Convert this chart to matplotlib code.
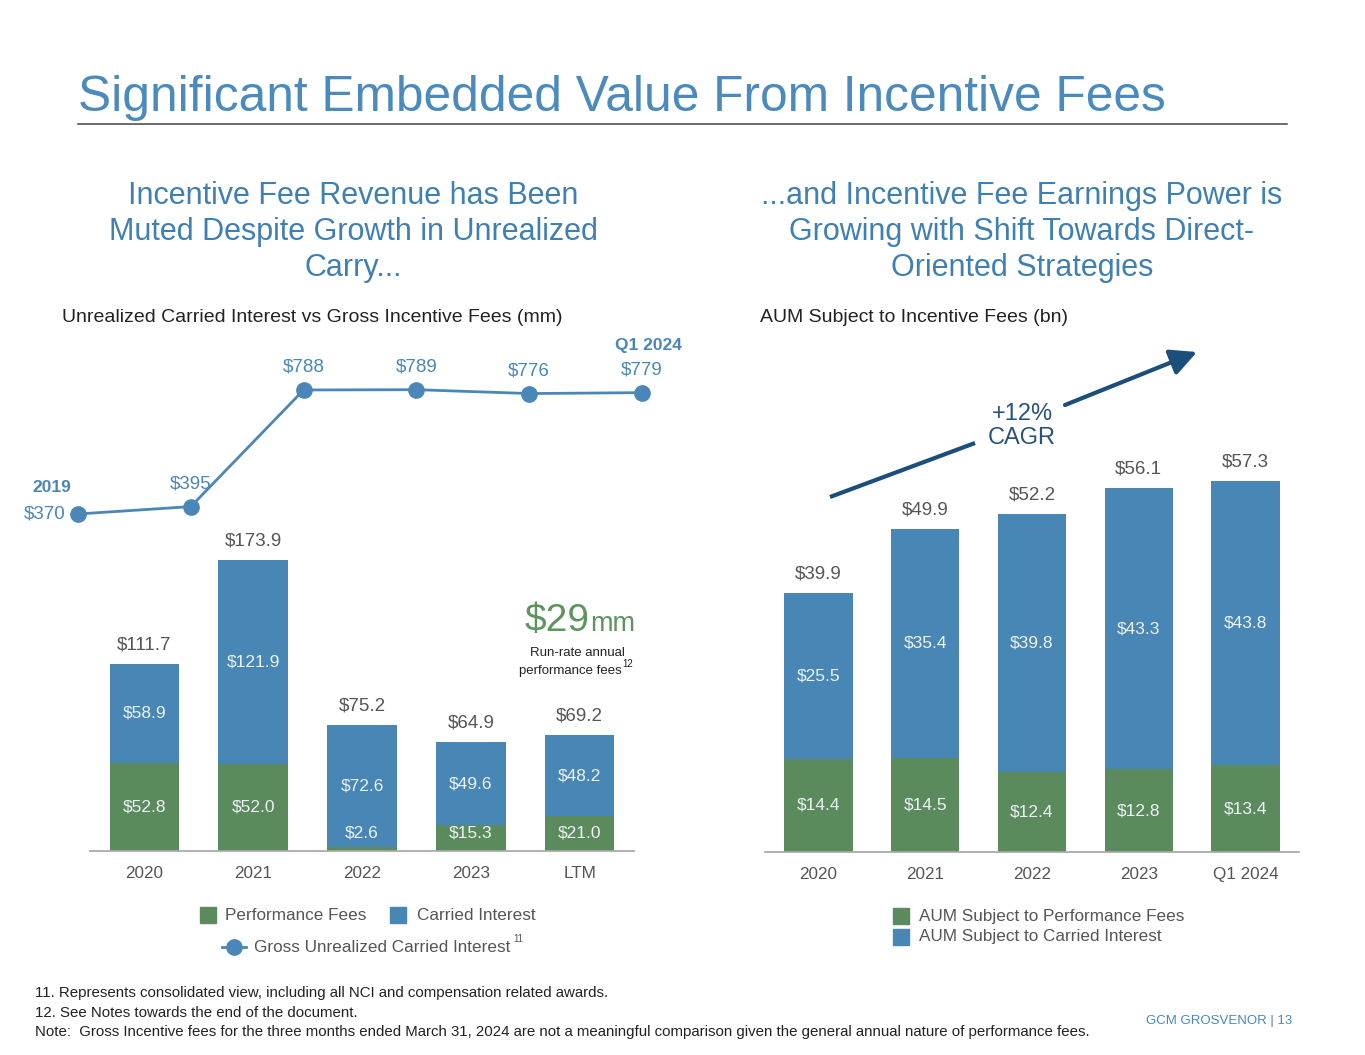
import matplotlib
matplotlib.use("Agg")
import matplotlib.pyplot as plt
from matplotlib.patches import Rectangle, FancyArrowPatch
from matplotlib.lines import Line2D

plt.rcParams['font.family'] = ['Liberation Sans', 'DejaVu Sans']

# ---------------- data ----------------
left_cats = ["2020", "2021", "2022", "2023", "LTM"]
perf_fees = [52.8, 52.0, 2.6, 15.3, 21.0]
carried_int = [58.9, 121.9, 72.6, 49.6, 48.2]
incentive_totals = [111.7, 173.9, 75.2, 64.9, 69.2]

line_cats = ["2019", "2020", "2021", "2022", "2023", "Q1 2024"]
gross_unrealized = [370, 395, 788, 789, 776, 779]

right_cats = ["2020", "2021", "2022", "2023", "Q1 2024"]
aum_perf = [14.4, 14.5, 12.4, 12.8, 13.4]
aum_carry = [25.5, 35.4, 39.8, 43.3, 43.8]
aum_totals = [39.9, 49.9, 52.2, 56.1, 57.3]

# ---------------- styles ----------------
W, H = 1365, 1055
GREEN = "#5B8A5D"
BLUE = "#4886B5"
LINEBLUE = "#4A87B8"
TITLEBLUE = "#4A8ABD"
SUBBLUE = "#3F7FB2"
NAVY = "#1B4E7A"
GRAY_TXT = "#555555"
INNER = "#EEF3F7"

fig = plt.figure(figsize=(W / 100, H / 100), dpi=100)
fig.patch.set_facecolor("white")


def rect(x0, y0, x1, y1):
    return [x0 / W, 1 - y1 / H, (x1 - x0) / W, (y1 - y0) / H]


def fx(x):
    return x / W


def fy(y):
    return 1 - y / H


def superscript(txt, s, color, dx=2, dy=7):
    fig.texts.append(None)  # placeholder removed below
    fig.texts.pop()
    a = fig.get_children()  # noqa
    t = plt.annotate(s, xy=(1, 0.5), xycoords=txt, xytext=(dx, dy), textcoords="offset pixels",
                     fontsize=7, color=color, ha="left", va="center", annotation_clip=False)
    return t


# ---------------- title ----------------
fig.text(fx(78), fy(111), "Significant Embedded Value From Incentive Fees",
         fontsize=35.7, color=TITLEBLUE, ha="left", va="baseline")
fig.add_artist(Line2D([fx(78), fx(1287)], [fy(124), fy(124)],
                      color="#444444", lw=1.1, transform=fig.transFigure))

fig.text(fx(353), fy(232), "Incentive Fee Revenue has Been\nMuted Despite Growth in Unrealized\nCarry...",
         fontsize=22, color=SUBBLUE, ha="center", va="center", linespacing=1.28)
fig.text(fx(1022), fy(232), "...and Incentive Fee Earnings Power is\nGrowing with Shift Towards Direct-\nOriented Strategies",
         fontsize=22, color=SUBBLUE, ha="center", va="center", linespacing=1.28)

fig.text(fx(62), fy(318), "Unrealized Carried Interest vs Gross Incentive Fees (mm)",
         fontsize=14, color="#222222", ha="left", va="center")
fig.text(fx(760), fy(318), "AUM Subject to Incentive Fees (bn)",
         fontsize=14, color="#222222", ha="left", va="center")

# ---------------- left bar chart ----------------
axL = fig.add_axes(rect(90, 540, 634, 851))
xl = range(len(left_cats))
bw = 0.64
axL.bar(xl, perf_fees, width=bw, color=GREEN, zorder=2)
axL.bar(xl, carried_int, width=bw, bottom=perf_fees, color=BLUE, zorder=2)
axL.set_xlim(-0.5, 4.5)
axL.set_ylim(0, (851 - 540) / 1.674)
for i in xl:
    pf, ci, tot = perf_fees[i], carried_int[i], incentive_totals[i]
    axL.text(i, max(pf / 2, 10.75), f"${pf:.1f}", ha="center", va="center",
             fontsize=12.5, color=INNER, zorder=3)
    axL.text(i, pf + ci / 2, f"${ci:.1f}", ha="center", va="center",
             fontsize=12.5, color=INNER, zorder=3)
    axL.annotate(f"${tot:.1f}", (i, pf + ci), xytext=(0, 19), textcoords="offset pixels",
                 ha="center", va="center", fontsize=13.5, color=GRAY_TXT)
axL.set_xticks(list(xl))
axL.set_xticklabels(left_cats, fontsize=12.3, color=GRAY_TXT)
axL.tick_params(axis="x", length=0, pad=10.5)
axL.set_yticks([])
for s in ["top", "left", "right"]:
    axL.spines[s].set_visible(False)
axL.spines["bottom"].set_color("#AAAAAA")
axL.spines["bottom"].set_linewidth(1.3)
axL.patch.set_alpha(0)

# ---------------- line chart (gross unrealized carried interest) ----------------
axLine = fig.add_axes(rect(40, 340, 680, 530))
xs = list(range(len(line_cats)))
sp = 112.8
axLine.set_xlim(-(78 - 40) / sp, 5 + (680 - 642) / sp)
k = 0.2967
axLine.set_ylim(370 - (530 - 514) / k, 370 + (514 - 340) / k)
axLine.plot(xs, gross_unrealized, color=LINEBLUE, lw=2.0, marker="o", markersize=11,
            markerfacecolor=LINEBLUE, markeredgecolor=LINEBLUE, zorder=3)
axLine.axis("off")
axLine.patch.set_alpha(0)
for i, v in enumerate(gross_unrealized):
    if i == 0:
        axLine.annotate(f"${v}", (i, v), xytext=(-12, 0), textcoords="offset pixels",
                        ha="right", va="center", fontsize=13.5, color=LINEBLUE)
    else:
        axLine.annotate(f"${v}", (i, v), xytext=(0, 23), textcoords="offset pixels",
                        ha="center", va="center", fontsize=13.5, color=LINEBLUE)
axLine.annotate(line_cats[0], (0, gross_unrealized[0]), xytext=(-26, 26), textcoords="offset pixels",
                ha="center", va="center", fontsize=12.5, fontweight="bold", color=LINEBLUE)
axLine.annotate(line_cats[-1], (5, gross_unrealized[-1]), xytext=(6, 47), textcoords="offset pixels",
                ha="center", va="center", fontsize=12.5, fontweight="bold", color=LINEBLUE)

# $29mm callout
fig.text(fx(590), fy(631), "$29", fontsize=28, color="#5E9460", ha="right", va="baseline")
fig.text(fx(590), fy(631), "mm", fontsize=19.5, color="#5E9460", ha="left", va="baseline")
fig.text(fx(577), fy(653), "Run-rate annual", fontsize=9.5, color="#222222", ha="center", va="center")
t12 = fig.text(fx(570), fy(671), "performance fees", fontsize=9.5, color="#222222", ha="center", va="center")
fig.add_artist(matplotlib.text.Annotation("12", xy=(1, 0.5), xycoords=t12, xytext=(1, 7),
                                          textcoords="offset pixels", fontsize=7, color="#222222",
                                          ha="left", va="center"))


# left legend
def sq(x, y, c):
    fig.add_artist(Rectangle((fx(x), fy(y + 16)), 16 / W, 16 / H, color=c,
                             transform=fig.transFigure))


sq(200, 907, GREEN)
fig.text(fx(225), fy(915), "Performance Fees", fontsize=12.3, color=GRAY_TXT, ha="left", va="center")
sq(390, 907, BLUE)
fig.text(fx(417), fy(915), "Carried Interest", fontsize=12.3, color=GRAY_TXT, ha="left", va="center")
fig.add_artist(Line2D([fx(222), fx(246)], [fy(947), fy(947)], color=LINEBLUE, lw=2.0,
                      transform=fig.transFigure))
fig.add_artist(Line2D([fx(234)], [fy(947)], color=LINEBLUE, marker="o", markersize=11,
                      transform=fig.transFigure))
t11 = fig.text(fx(254), fy(947), "Gross Unrealized Carried Interest", fontsize=12.3, color=GRAY_TXT,
               ha="left", va="center")
fig.add_artist(matplotlib.text.Annotation("11", xy=(1, 0.5), xycoords=t11, xytext=(3, 8),
                                          textcoords="offset pixels", fontsize=7, color=GRAY_TXT,
                                          ha="left", va="center"))

# ---------------- right bar chart ----------------
axR = fig.add_axes(rect(765, 470, 1299, 852))
xr = range(len(right_cats))
axR.bar(xr, aum_perf, width=bw, color=GREEN, zorder=2)
axR.bar(xr, aum_carry, width=bw, bottom=aum_perf, color=BLUE, zorder=2)
axR.set_xlim(-0.5, 4.5)
axR.set_ylim(0, (852 - 470) / 6.48)
for i in xr:
    pf, ci, tot = aum_perf[i], aum_carry[i], aum_totals[i]
    axR.text(i, pf / 2, f"${pf:.1f}", ha="center", va="center",
             fontsize=12.5, color=INNER, zorder=3)
    axR.text(i, pf + ci / 2, f"${ci:.1f}", ha="center", va="center",
             fontsize=12.5, color=INNER, zorder=3)
    axR.annotate(f"${tot:.1f}", (i, pf + ci), xytext=(0, 19), textcoords="offset pixels",
                 ha="center", va="center", fontsize=13.5, color=GRAY_TXT)
axR.set_xticks(list(xr))
axR.set_xticklabels(right_cats, fontsize=12.3, color=GRAY_TXT)
axR.tick_params(axis="x", length=0, pad=10.5)
axR.set_yticks([])
for s in ["top", "left", "right"]:
    axR.spines[s].set_visible(False)
axR.spines["bottom"].set_color("#AAAAAA")
axR.spines["bottom"].set_linewidth(1.3)
axR.patch.set_alpha(0)

# CAGR arrow
fig.add_artist(Line2D([fx(830), fx(975)], [fy(497), fy(443)], color=NAVY, lw=3,
                      transform=fig.transFigure, solid_capstyle="butt"))
fig.add_artist(FancyArrowPatch(
    (fx(1065), fy(405)), (fx(1197), fy(352)), transform=fig.transFigure,
    arrowstyle="-|>,head_length=8,head_width=4", mutation_scale=2.0,
    color=NAVY, lw=3, shrinkA=0, shrinkB=0))
fig.text(fx(1022), fy(426), "+12%\nCAGR", fontsize=17, color="#2A527A", ha="center", va="center",
         linespacing=1.1)

# right legend
sq(893, 908, GREEN)
fig.text(fx(919), fy(916), "AUM Subject to Performance Fees", fontsize=12.3, color=GRAY_TXT,
         ha="left", va="center")
sq(893, 929, BLUE)
fig.text(fx(919), fy(937), "AUM Subject to Carried Interest", fontsize=12.3, color=GRAY_TXT,
         ha="left", va="center")

# ---------------- footnotes ----------------
fn = [
    "11. Represents consolidated view, including all NCI and compensation related awards.",
    "12. See Notes towards the end of the document.",
    "Note:  Gross Incentive fees for the three months ended March 31, 2024 are not a meaningful comparison given the general annual nature of performance fees.",
]
for t, y in zip(fn, [993, 1013, 1032]):
    fig.text(fx(35), fy(y), t, fontsize=10.8, color="#222222", ha="left", va="center")
fig.text(fx(1292), fy(1021), "GCM GROSVENOR | 13", fontsize=9.5, color="#4A88BB", ha="right", va="center")

fig.savefig("out.png", dpi=100, facecolor="white")
